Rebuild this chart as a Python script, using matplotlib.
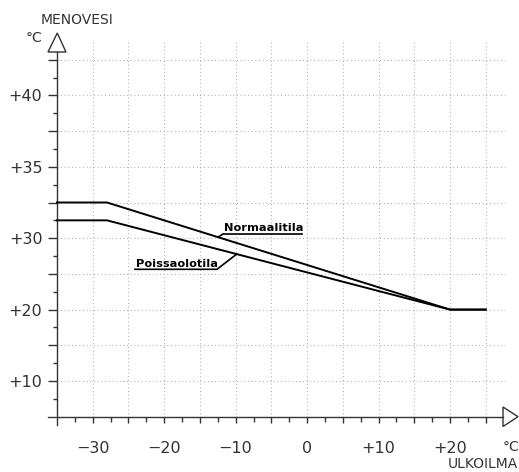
import numpy as np
import matplotlib
matplotlib.use('Agg')
import matplotlib.pyplot as plt
from matplotlib.patches import Polygon

# heating curves: outdoor temp (x) vs supply water (y, drawing units,
# one grid step = 5 units, real values shown by the tick labels below)
outdoor = [-35, -28, 20, 25]
normaalitila = [35, 35, 20, 20]
poissaolotila = [32.5, 32.5, 20, 20]

x_ticks = [-30, -20, -10, 0, 10, 20]
x_labels = ['−30', '−20', '−10', '0', '+10', '+20']
y_ticks = [10, 20, 30, 40, 50]
y_labels = ['+10', '+20', '+30', '+35', '+40']

W, H = 519, 472
# pixel geometry of the drawing
ppx, x0 = 7.146, 307.1     # px per unit, px of x=0
ppy, y10 = 7.14, 381.0     # px per unit, px of y=10

def dx(px):
    return (px - x0) / ppx

def dy(py):
    return 10 + (y10 - py) / ppy

fig = plt.figure(figsize=(W / 100, H / 100), dpi=100)
ax = fig.add_axes([0, 0, 1, 1])
ax.set_xlim(dx(0), dx(W))
ax.set_ylim(dy(H), dy(0))

axcol = '#333333'
gridcol = '#9a9a9a'

# dotted grid
ax.vlines(np.arange(-30, 26, 5), 5, 57.5, colors=gridcol, lw=0.8,
          linestyles=(0, (0.7, 2.6)), zorder=1)
ax.hlines(np.arange(10, 56, 5), -35, 27.7, colors=gridcol, lw=0.8,
          linestyles=(0, (0.7, 2.6)), zorder=1)

# axes lines
for s in ['top', 'right']:
    ax.spines[s].set_visible(False)
ax.spines['left'].set_position(('data', -35))
ax.spines['left'].set_bounds(dy(425), dy(52))
ax.spines['bottom'].set_position(('data', 5))
ax.spines['bottom'].set_bounds(dx(48), dx(503))
for s in ['left', 'bottom']:
    ax.spines[s].set_color(axcol)
    ax.spines[s].set_linewidth(1.0)

# ticks
xmaj = np.arange(-30, 26, 5)
ax.set_xticks(xmaj)
ax.set_xticklabels([x_labels[x_ticks.index(v)] if v in x_ticks else '' for v in xmaj])
ax.set_xticks(np.arange(-32.5, 26, 5), minor=True)
ymaj = np.arange(10, 56, 5)
ax.set_yticks(ymaj)
ax.set_yticklabels([y_labels[y_ticks.index(v)] if v in y_ticks else '' for v in ymaj])
ax.set_yticks(np.arange(7.5, 56, 5), minor=True)

ax.tick_params(axis='x', which='major', direction='out', length=4.5, width=1,
               color=axcol, pad=13, labelsize=11.5, labelcolor='#333333')
ax.tick_params(axis='x', which='minor', direction='out', length=3.5, width=1, color=axcol)
ax.tick_params(axis='y', which='major', direction='out', length=6.5, width=1,
               color=axcol, pad=4, labelsize=11.5, labelcolor='#333333')
ax.tick_params(axis='y', which='minor', direction='out', length=3, width=1, color=axcol)

# arrow heads
ax.add_patch(Polygon([[dx(48), dy(52)], [dx(66), dy(52)], [dx(57.3), dy(33)]],
                     closed=True, fill=False, ec=axcol, lw=1.0, clip_on=False))
ax.add_patch(Polygon([[dx(503), dy(407)], [dx(503), dy(426.5)], [dx(518), dy(416.7)]],
                     closed=True, fill=False, ec=axcol, lw=1.0, clip_on=False))

# curves
ax.plot(outdoor, normaalitila, color='black', lw=1.4, zorder=3)
ax.plot(outdoor, poissaolotila, color='black', lw=1.4, zorder=3)

# labels with underline and leader
def label(text, x1, x2, yline, xcurve, curve, leader_left):
    yc = np.interp(xcurve, outdoor, curve)
    if leader_left:
        pts = [(xcurve, yc), (x1, yline), (x2, yline)]
    else:
        pts = [(x1, yline), (x2, yline), (xcurve, yc)]
    ax.plot(*zip(*pts), color='black', lw=1.2, zorder=3)
    ax.annotate(text, (x1, yline), xytext=(0.5, 2), textcoords='offset points',
                ha='left', va='baseline', fontsize=8.2, fontweight='bold')

label('Normaalitila', dx(223), dx(302), dy(234), dx(218), normaalitila, True)
label('Poissaolotila', dx(135), dx(217), dy(269.3), dx(236.7), poissaolotila, False)

# axis titles
fig.text(77 / W, 1 - 20 / H, 'MENOVESI', ha='center', va='center',
         fontsize=10, color='#333333')
fig.text(34 / W, 1 - 38 / H, '°C', ha='center', va='center',
         fontsize=10, color='#333333')
fig.text(511 / W, 1 - 447 / H, '°C', ha='center', va='center',
         fontsize=10, color='#333333')
fig.text(518 / W, 1 - 464 / H, 'ULKOILMA', ha='right', va='center',
         fontsize=10, color='#333333')

fig.savefig('out.png', dpi=100)
